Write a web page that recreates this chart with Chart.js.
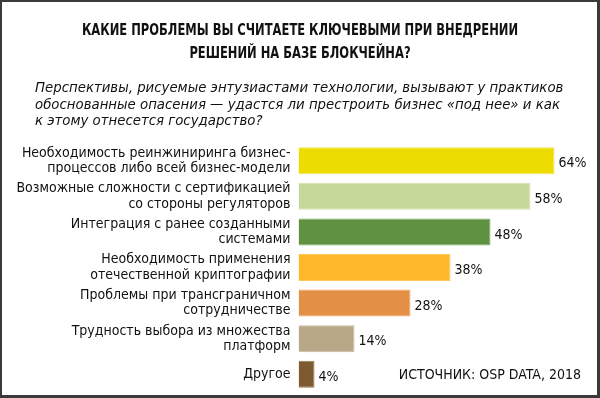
<!DOCTYPE html>
<html>
<head>
<meta charset="utf-8">
<script src="https://cdn.jsdelivr.net/npm/chart.js@4/dist/chart.umd.min.js"></script>
<style>
  html, body { margin: 0; padding: 0; background: #fff; }
  #wrap { position: relative; width: 600px; height: 398px; overflow: hidden; }
  #chart { position: absolute; left: 0; top: 0; }
  #frame { position: absolute; left: 0; top: 0; width: 600px; height: 398px; box-sizing: border-box;
           border-style: solid; border-color: #3a3a3a; border-width: 2px 3px 3px 2px; pointer-events: none; }
  .title { position: absolute; left: 0; width: 600px; top: 18px; text-align: center; white-space: nowrap;
           font: bold 16px "DejaVu Sans Condensed", sans-serif; line-height: 23px; color: #111;
           transform: scaleX(0.8); transform-origin: 300px 0; }
  .sub { position: absolute; left: 35px; top: 79px; white-space: nowrap;
         font: italic 14.8px "DejaVu Sans Condensed", sans-serif; line-height: 16.5px; color: #111; }
  .src { position: absolute; right: 19px; top: 366px; white-space: nowrap;
         font: 14px "DejaVu Sans Condensed", sans-serif; color: #111; }
</style>
</head>
<body>
<div id="wrap">
  <canvas id="chart" width="600" height="398"></canvas>
  <div class="title">КАКИЕ ПРОБЛЕМЫ ВЫ СЧИТАЕТЕ КЛЮЧЕВЫМИ ПРИ ВНЕДРЕНИИ<br>РЕШЕНИЙ НА БАЗЕ БЛОКЧЕЙНА?</div>
  <div class="sub">Перспективы, рисуемые энтузиастами технологии, вызывают у практиков<br>обоснованные опасения — удастся ли престроить бизнес «под нее» и как<br>к этому отнесется государство?</div>
  <div class="src">ИСТОЧНИК: OSP DATA, 2018</div>
  <div id="frame"></div>
</div>
<script>
// Problems when adopting blockchain, share of answers (%)
const categories = [
    ['Необходимость реинжиниринга бизнес-', 'процессов либо всей бизнес-модели'],
    ['Возможные сложности с сертификацией', 'со стороны регуляторов'],
    ['Интеграция с ранее созданными', 'системами'],
    ['Необходимость применения', 'отечественной криптографии'],
    ['Проблемы при трансграничном', 'сотрудничестве'],
    ['Трудность выбора из множества', 'платформ'],
    'Другое'
];
const values = [64, 58, 48, 38, 28, 14, 4];
const barColors = ['#EDDC00', '#C6D99A', '#5F9141', '#FCB828', '#E38F45', '#B8A888', '#7D5A2F'];
const barEdges = ['#F2E54D', '#D3E2B0', '#7FA86A', '#FDC85C', '#EAA872', '#C9BCA2', '#977A55'];

const fontFamily = '"DejaVu Sans Condensed", sans-serif';

// percent labels at the end of each bar
const valueLabels = {
    id: 'valueLabels',
    afterDatasetsDraw(chart) {
        const ctx = chart.ctx;
        const meta = chart.getDatasetMeta(0);
        ctx.save();
        ctx.font = '14px ' + fontFamily;
        ctx.fillStyle = '#111';
        ctx.textAlign = 'left';
        ctx.textBaseline = 'middle';
        meta.data.forEach((bar, i) => {
            ctx.fillText(values[i] + '%', bar.x + 4, bar.y + 3);
        });
        ctx.restore();
    }
};

const ctx = document.getElementById('chart').getContext('2d');
const chart = new Chart(ctx, {
    type: 'bar',
    data: {
        labels: categories,
        datasets: [{
            data: values,
            backgroundColor: barColors,
            borderColor: barEdges,
            borderWidth: 1,
            barPercentage: 0.76,
            categoryPercentage: 1
        }]
    },
    options: {
        indexAxis: 'y',
        responsive: false,
        animation: false,
        layout: { padding: { top: 143, bottom: 6, left: 0, right: 21.5 } },
        plugins: {
            legend: { display: false },
            tooltip: { enabled: false }
        },
        scales: {
            x: { display: false, min: 0, max: 70 },
            y: {
                afterFit(scale) {
                    scale.width = 298.5;
                    scale.paddingTop = 0;
                    scale.paddingBottom = 0;
                },
                grid: { display: false, drawTicks: false },
                border: { display: false },
                ticks: {
                    padding: 8,
                    color: '#111',
                    font: { family: fontFamily, size: 14, lineHeight: 1.1 }
                }
            }
        }
    },
    plugins: [valueLabels]
});
</script>
</body>
</html>
